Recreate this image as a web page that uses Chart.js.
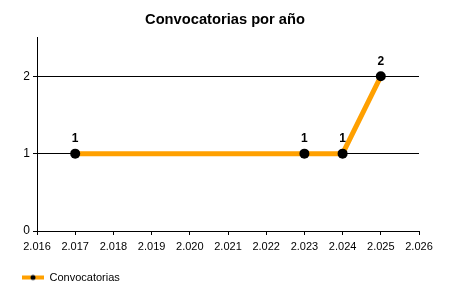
<!DOCTYPE html>
<html>
<head>
<meta charset="utf-8">
<script src="https://cdn.jsdelivr.net/npm/chart.js@4"></script>
<style>
html,body{margin:0;padding:0;background:#fff;}
#wrap{width:450px;height:300px;}
</style>
</head>
<body>
<div id="wrap"><canvas id="c" width="450" height="300"></canvas></div>
<script>
const years = [2017, 2023, 2024, 2025];
const counts = [1, 1, 1, 2];
const xTicks = [2016, 2017, 2018, 2019, 2020, 2021, 2022, 2023, 2024, 2025, 2026];
const yTicks = [0, 1, 2];
const seriesName = 'Convocatorias';
const titleText = 'Convocatorias por año';

const FONT = "'Liberation Sans', Arial, sans-serif";
const LINE = '#FFA000';

function fmtYear(v){
  const s = String(Math.round(v));
  return s.length > 3 ? s.slice(0, s.length-3) + '.' + s.slice(-3) : s;
}

// legend marker: line with a dot
const mk = document.createElement('canvas');
mk.width = 22; mk.height = 10;
(function(){
  const g = mk.getContext('2d');
  g.strokeStyle = LINE; g.lineWidth = 4;
  g.beginPath(); g.moveTo(0,5); g.lineTo(22,5); g.stroke();
  g.fillStyle = '#000';
  g.beginPath(); g.arc(11,5,2.5,0,Math.PI*2); g.fill();
})();

const valueLabels = {
  id: 'valueLabels',
  afterDatasetsDraw(chart){
    const ctx = chart.ctx;
    const meta = chart.getDatasetMeta(0);
    ctx.save();
    ctx.font = "bold 12px " + FONT;
    ctx.fillStyle = '#000';
    ctx.textAlign = 'center';
    ctx.textBaseline = 'middle';
    meta.data.forEach((p, i) => {
      ctx.fillText(String(counts[i]), p.x, p.y - 15);
    });
    ctx.restore();
  }
};

new Chart(document.getElementById('c'), {
  type: 'line',
  data: {
    datasets: [{
      label: seriesName,
      data: years.map((y, i) => ({x: y, y: counts[i]})),
      borderColor: LINE,
      backgroundColor: LINE,
      borderWidth: 5,
      pointStyle: 'circle',
      pointRadius: 5,
      pointHoverRadius: 5,
      pointBackgroundColor: '#000',
      pointBorderColor: '#000',
      pointBorderWidth: 0,
      tension: 0
    }]
  },
  options: {
    responsive: false,
    animation: false,
    events: [],
    layout: { padding: { left: 12, right: 12, top: 0, bottom: 7 } },
    plugins: {
      title: {
        display: true,
        text: titleText,
        color: '#000',
        font: { family: FONT, size: 14.7, weight: 'bold' },
        padding: { top: 11, bottom: 9 }
      },
      legend: {
        display: true,
        position: 'bottom',
        align: 'start',
        labels: {
          color: '#000',
          font: { family: FONT, size: 11 },
          usePointStyle: true,
          pointStyleWidth: 22,
          padding: 10,
          generateLabels(chart){
            return [{ text: seriesName, pointStyle: mk, fillStyle: LINE, strokeStyle: LINE, lineWidth: 0, datasetIndex: 0 }];
          }
        }
      },
      tooltip: { enabled: false }
    },
    scales: {
      x: {
        type: 'linear',
        min: xTicks[0],
        max: xTicks[xTicks.length-1],
        afterBuildTicks(scale){ scale.ticks = xTicks.map(v => ({value: v})); },
        afterFit(scale){ scale.height = 31; },
        ticks: {
          color: '#000',
          font: { family: FONT, size: 11 },
          padding: 5,
          maxRotation: 0,
          autoSkip: false,
          callback: v => fmtYear(v)
        },
        grid: { drawOnChartArea: false, drawTicks: true, tickLength: 4, color: '#000', tickColor: '#000' },
        border: { display: true, color: '#000', width: 1 }
      },
      y: {
        type: 'linear',
        min: 0,
        max: 2.5,
        afterBuildTicks(scale){ scale.ticks = yTicks.map(v => ({value: v})); },
        afterFit(scale){ scale.width = 25; },
        ticks: {
          color: '#000',
          font: { family: FONT, size: 12 },
          padding: 3,
          callback: v => String(v)
        },
        grid: { drawOnChartArea: true, drawTicks: true, tickLength: 4, color: '#000', tickColor: '#000', lineWidth: 1 },
        border: { display: true, color: '#000', width: 1 }
      },
      yRight: {
        type: 'linear',
        position: 'right',
        display: true,
        min: 0,
        max: 2.5,
        afterFit(scale){ scale.width = 19; },
        ticks: { display: false },
        grid: { display: false, drawTicks: false },
        border: { display: false }
      }
    }
  },
  plugins: [valueLabels]
});
</script>
</body>
</html>
